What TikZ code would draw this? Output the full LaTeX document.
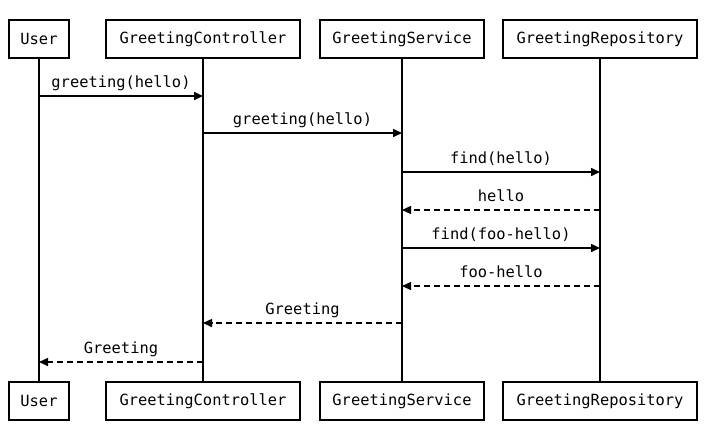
\documentclass[tikz,border=0pt]{standalone}
\usepackage{fontspec}
\setmonofont{DejaVu Sans Mono}
\usetikzlibrary{arrows.meta, positioning}
\tikzset{
  seqfont/.style={font=\ttfamily\fontsize{15.4}{18}\selectfont},
  actor/.style={draw, line width=1.6pt, minimum height=38pt, inner sep=0pt, seqfont},
  lifeline/.style={line width=1.5pt},
  call/.style={line width=1.5pt, -{Triangle[length=9pt,width=8pt]}},
  reply/.style={call, dash pattern=on 6pt off 4pt},
  msg/.style={midway, anchor=base, yshift=8.5pt, inner sep=0pt, seqfont}
}

\begin{document}
\begin{tikzpicture}[x=1pt, y=-1pt]
  \useasboundingbox (0,0) rectangle (727,440);
  % ---- participants, top row and bottom row ----
  \node[actor, minimum width=60pt]  (userT) at (39,39)  {User};
  \node[actor, minimum width=194pt] (ctrlT) at (203,39) {GreetingController};
  \node[actor, minimum width=164pt] (servT) at (402,39) {GreetingService};
  \node[actor, minimum width=194pt] (repoT) at (600,39) {GreetingRepository};
  \node[actor, minimum width=60pt]  (userB) at (39,401)  {User};
  \node[actor, minimum width=194pt] (ctrlB) at (203,401) {GreetingController};
  \node[actor, minimum width=164pt] (servB) at (402,401) {GreetingService};
  \node[actor, minimum width=194pt] (repoB) at (600,401) {GreetingRepository};
  % lifelines
  \foreach \p in {user,ctrl,serv,repo}
    \draw[lifeline] (\p T.south) -- (\p B.north);
  % ---- messages ----
  \draw[call]  (userT |- 0,96)  -- (ctrlT |- 0,96)  node[msg]{greeting(hello)};
  \draw[call]  (ctrlT |- 0,133) -- (servT |- 0,133) node[msg]{greeting(hello)};
  \draw[call]  (servT |- 0,172) -- (repoT |- 0,172) node[msg]{find(hello)};
  \draw[reply] (repoT |- 0,210) -- (servT |- 0,210) node[msg]{hello};
  \draw[call]  (servT |- 0,248) -- (repoT |- 0,248) node[msg]{find(foo-hello)};
  \draw[reply] (repoT |- 0,286) -- (servT |- 0,286) node[msg]{foo-hello};
  \draw[reply] (servT |- 0,323) -- (ctrlT |- 0,323) node[msg]{Greeting};
  \draw[reply] (ctrlT |- 0,362) -- (userT |- 0,362) node[msg]{Greeting};
\end{tikzpicture}
\end{document}
